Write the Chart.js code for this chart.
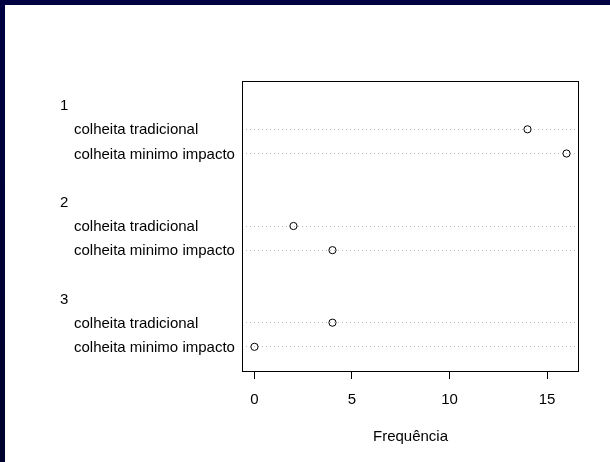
<!DOCTYPE html>
<html>
<head>
<meta charset="utf-8">
<script src="https://cdn.jsdelivr.net/npm/chart.js@4/dist/chart.umd.min.js"></script>
<style>
  html, body { margin: 0; padding: 0; }
  #frame {
    position: relative; width: 610px; height: 462px; overflow: hidden;
    background: linear-gradient(to bottom, #000042, #00002c);
  }
  #paper { position: absolute; left: 5px; top: 5px; right: 0; bottom: 0; background: #fff; }
  #chart { position: absolute; left: 0; top: 0; }
</style>
</head>
<body>
<div id="frame">
  <div id="paper"></div>
  <canvas id="chart" width="610" height="462"></canvas>
</div>
<script>
// data (groups top to bottom, methods top to bottom)
var groups  = ['1', '2', '3'];
var methods = ['colheita tradicional', 'colheita minimo impacto'];
var freqG1  = [14, 16];
var freqG2  = [2, 4];
var freqG3  = [4, 0];
var xTicks  = [0, 5, 10, 15];

var FONT = 'Liberation Sans, Arial, Helvetica, sans-serif';

// dotchart layout: rows counted from the bottom, group header one step above its rows,
// one blank step between groups
var series = [freqG1, freqG2, freqG3];
var rows = [];      // {y, label, x}
var headers = [];   // {y, label}
var pos = 0;
for (var g = groups.length - 1; g >= 0; g--) {
  for (var m = methods.length - 1; m >= 0; m--) {
    pos += 1;
    rows.push({ y: pos, label: methods[m], x: series[g][m] });
  }
  pos += 1;
  headers.push({ y: pos, label: groups[g] });
  pos += 1;
}
var yMax = pos;
var xMax = 16, xExt = xMax * 0.04;

var points = rows.map(function (r) { return { x: r.x, y: r.y }; });

// box around plot + left-hand row labels
var dotLabels = {
  id: 'dotLabels',
  afterDraw: function (chart) {
    var ctx = chart.ctx, a = chart.chartArea, ys = chart.scales.y;
    ctx.save();
    ctx.strokeStyle = '#000';
    ctx.lineWidth = 1;
    ctx.strokeRect(a.left + 0.5, a.top + 0.5, a.right - a.left - 1, a.bottom - a.top);
    ctx.fillStyle = '#000';
    ctx.font = '15px ' + FONT;
    ctx.textAlign = 'left';
    ctx.textBaseline = 'middle';
    headers.forEach(function (h) { ctx.fillText(h.label, 60, ys.getPixelForValue(h.y) + 1); });
    rows.forEach(function (r) { ctx.fillText(r.label, 74, ys.getPixelForValue(r.y) + 1); });
    ctx.restore();
  }
};

new Chart(document.getElementById('chart'), {
  type: 'scatter',
  data: {
    datasets: [{
      data: points,
      pointStyle: 'circle',
      pointRadius: 3.6,
      pointHoverRadius: 3.6,
      pointBorderWidth: 1,
      pointBorderColor: '#000',
      pointBackgroundColor: 'rgba(255,255,255,0)'
    }]
  },
  options: {
    responsive: false,
    animation: false,
    events: [],
    layout: { padding: { left: 242, right: 31, top: 81, bottom: 16 } },
    plugins: { legend: { display: false }, tooltip: { enabled: false } },
    scales: {
      x: {
        type: 'linear',
        min: -xExt,
        max: xMax + xExt,
        afterBuildTicks: function (s) { s.ticks = xTicks.map(function (v) { return { value: v }; }); },
        afterFit: function (s) { s.height = 75; },
        border: { display: false },
        grid: { drawOnChartArea: false, drawTicks: true, tickLength: 8, color: '#000', lineWidth: 1 },
        ticks: { color: '#000', padding: 12, font: { family: FONT, size: 15 }, maxRotation: 0 },
        title: { display: true, text: 'Frequência', color: '#000', padding: 0, font: { family: FONT, size: 15 } }
      },
      y: {
        type: 'linear',
        min: 0,
        max: yMax,
        afterBuildTicks: function (s) { s.ticks = rows.map(function (r) { return { value: r.y }; }); },
        afterFit: function (s) { s.width = 0; },
        border: { display: false, dash: [1, 3] },
        grid: { drawTicks: false, color: '#bdbdbd', lineWidth: 1 },
        ticks: { display: false }
      }
    }
  },
  plugins: [dotLabels]
});
</script>
</body>
</html>
